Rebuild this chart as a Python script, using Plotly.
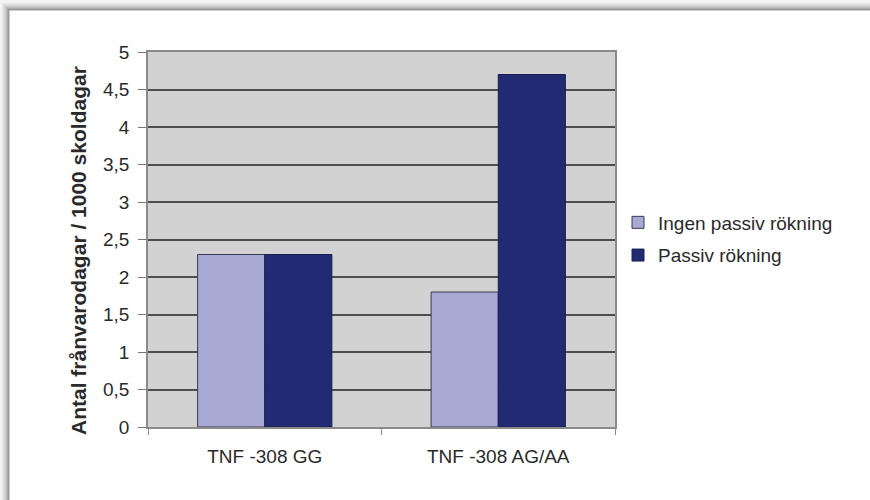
import plotly.graph_objects as go

# Chart data
categories = ["TNF -308 GG", "TNF -308 AG/AA"]
series_names = ["Ingen passiv rökning", "Passiv rökning"]
ingen_passiv = [2.3, 1.8]
passiv = [2.3, 4.7]
y_tick_values = [0, 0.5, 1, 1.5, 2, 2.5, 3, 3.5, 4, 4.5, 5]
y_tick_labels = ["0", "0,5", "1", "1,5", "2", "2,5", "3", "3,5", "4", "4,5", "5"]
y_title = "Antal frånvarodagar / 1000 skoldagar"

W, H = 870, 500
L, R, T, B = 148, 615, 52, 427  # plot-area pixel bounds
PW, PH = R - L, B - T


def px(x):
    return (x - L) / PW


def py(y):
    return (B - y) / PH


FONT = "Arial, 'Liberation Sans', sans-serif"
LIGHT = "#a9aad3"
DARK = "#222a74"
TEXT = "#2a2a2a"

fig = go.Figure()
fig.add_trace(go.Bar(
    x=categories, y=ingen_passiv, name=series_names[0], legendgroup="a",
    marker=dict(color=LIGHT, line=dict(color="#3a3a55", width=1)),
))
fig.add_trace(go.Bar(
    x=categories, y=passiv, name=series_names[1], legendgroup="b",
    marker=dict(color=DARK, line=dict(color="#1a1f50", width=1)),
))

# Framed card with a soft drop shadow on the top and left
shapes = []
shadow = ["#f0f0f0", "#e8e8e8", "#e0e0e0", "#d6d6d6", "#cacaca", "#bcbcbc", "#acacac", "#9a9a9a"]
for i, c in enumerate(shadow):
    shapes.append(dict(type="rect", xref="paper", yref="paper", layer="below",
                       x0=px(1 + i), x1=px(900), y0=py(540), y1=py(2 + i),
                       fillcolor=c, line=dict(width=0)))
shapes.append(dict(type="rect", xref="paper", yref="paper", layer="below",
                   x0=px(9), x1=px(900), y0=py(540), y1=py(10),
                   fillcolor="white", line=dict(color="#9a9a9a", width=1)))
shapes.append(dict(type="rect", xref="paper", yref="paper", layer="below",
                   x0=0, x1=1, y0=0, y1=1, fillcolor="#d2d2d2", line=dict(width=0)))

fig.update_layout(
    width=W, height=H,
    margin=dict(l=L, r=W - R, t=T, b=H - B, pad=0),
    paper_bgcolor="#f4f4f4",
    plot_bgcolor="rgba(0,0,0,0)",
    barmode="group",
    bargap=0.425,
    bargroupgap=0,
    font=dict(family=FONT, size=18, color=TEXT),
    shapes=shapes,
    showlegend=True,
    legend=dict(x=px(618), y=py(239), xanchor="left", yanchor="middle",
                font=dict(family=FONT, size=19, color=TEXT),
                bgcolor="rgba(0,0,0,0)", tracegroupgap=5, traceorder="grouped"),
    annotations=[dict(text=f"<b>{y_title}</b>", textangle=-90,
                      xref="paper", yref="paper", x=px(79), y=py(251),
                      xanchor="center", yanchor="middle",
                      showarrow=False, font=dict(family=FONT, size=21, color=TEXT))],
)

fig.update_xaxes(
    type="category", showgrid=False,
    showline=True, linecolor="#8a8a8a", linewidth=1.5, mirror=True,
    ticks="outside", tickson="boundaries", ticklen=6, tickcolor="#8a8a8a",
    tickfont=dict(family=FONT, size=19, color=TEXT),
    ticklabelstandoff=11,
)
fig.update_yaxes(
    range=[0, 5], tickvals=y_tick_values, ticktext=y_tick_labels,
    showgrid=True, gridcolor="#4e4e4e", gridwidth=1.5,
    showline=True, linecolor="#8a8a8a", linewidth=1.5, mirror=True,
    ticks="outside", ticklen=8, tickcolor="#777",
    tickfont=dict(family=FONT, size=19, color=TEXT),
    ticklabelstandoff=5, zeroline=False,
)

fig.write_html("out.html")
